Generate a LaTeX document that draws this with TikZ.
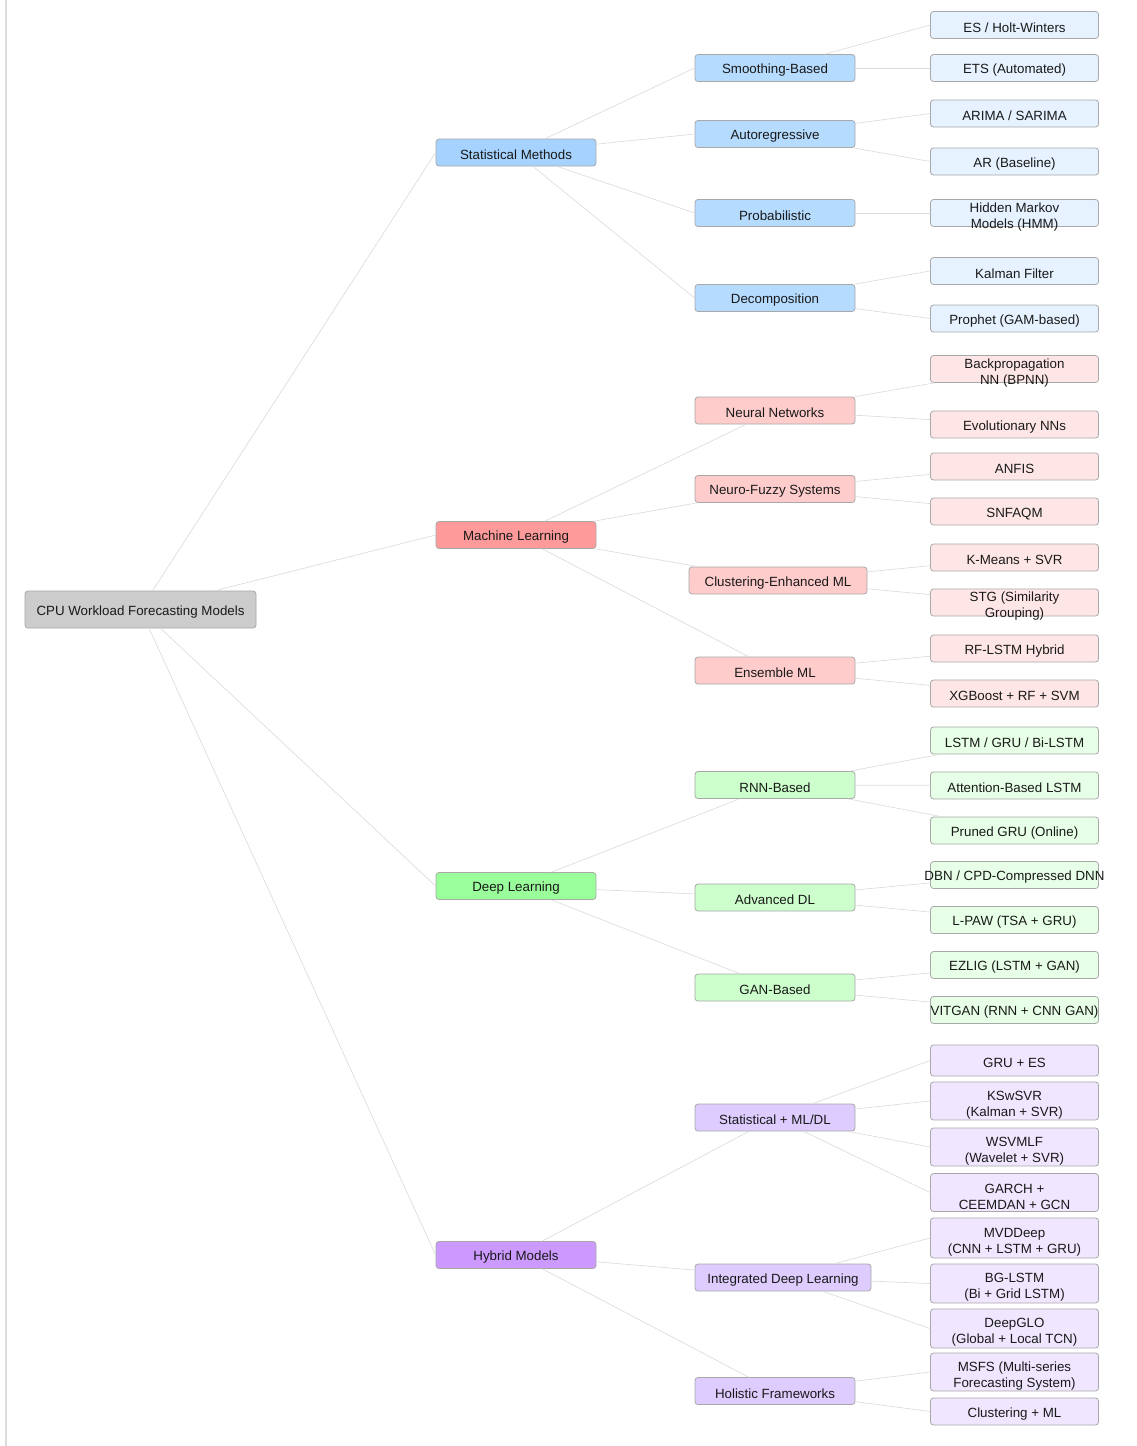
\documentclass[tikz,border=0pt]{standalone}
\usepackage{fontspec}
\setmainfont{Liberation Sans}
\usetikzlibrary{positioning}

\definecolor{boxline}{HTML}{A8A8A8}
\definecolor{linkgray}{HTML}{DCDCDC}
\definecolor{rootfill}{HTML}{CCCCCC}
\definecolor{statA}{HTML}{A6D2FF}
\definecolor{statB}{HTML}{B5DBFF}
\definecolor{statC}{HTML}{E6F2FF}
\definecolor{mlA}{HTML}{FF9A9A}
\definecolor{mlB}{HTML}{FFCCCC}
\definecolor{mlC}{HTML}{FFE6E6}
\definecolor{dlA}{HTML}{9AFF9A}
\definecolor{dlB}{HTML}{CCFFCC}
\definecolor{dlC}{HTML}{E6FFE6}
\definecolor{hybA}{HTML}{CC9AFF}
\definecolor{hybB}{HTML}{DFCCFF}
\definecolor{hybC}{HTML}{F0E6FF}

% strut for the first line of two-line labels
\newcommand{\firststrut}{\rule{0pt}{13pt}}

\begin{document}
\begin{tikzpicture}[x=0.75pt, y=-0.75pt, line cap=round, line join=round,
  txt/.style={font=\fontsize{10}{12}\selectfont, text=black!90, align=center, inner sep=0pt,
    execute at begin node={\rule{0pt}{11pt}}},
  box/.style={txt, draw=boxline, line width=0.6pt, rounded corners=2.25pt, minimum height=20.25pt},
  lvlone/.style={box, minimum width=120pt},
  lvltwo/.style={box, minimum width=120pt},
  leaf/.style={box, minimum width=126pt},
  link/.style={draw=linkgray, line width=0.5pt}]

\useasboundingbox (0,0) rectangle (1137,1446);
\draw[draw=linkgray, line width=0.8pt] (6,0) -- (6,1446);

% root
\node[box, fill=rootfill, minimum width=173.25pt, minimum height=27.75pt] (root) at (140.5,609.5) {CPU Workload Forecasting Models};

% first level
\node[lvlone, fill=statA] (stat) at (516,152.5) {Statistical Methods};
\node[lvlone, fill=mlA] (ml) at (516,535) {Machine Learning};
\node[lvlone, fill=dlA] (dl) at (516,886) {Deep Learning};
\node[lvlone, fill=hybA] (hyb) at (516,1255) {Hybrid Models};

% second level
\node[lvltwo, fill=statB] (smooth) at (775,68) {Smoothing-Based};
\node[lvltwo, fill=statB] (autoreg) at (775,134) {Autoregressive};
\node[lvltwo, fill=statB] (prob) at (775,213) {Probabilistic};
\node[lvltwo, fill=statB] (decomp) at (775,298) {Decomposition};

\node[lvltwo, fill=mlB] (nn) at (775,410.5) {Neural Networks};
\node[lvltwo, fill=mlB] (nfs) at (775,489) {Neuro-Fuzzy Systems};
\node[lvltwo, fill=mlB, minimum width=133.5pt] (clus) at (778,580.5) {Clustering-Enhanced ML};
\node[lvltwo, fill=mlB] (ens) at (775,670.5) {Ensemble ML};

\node[lvltwo, fill=dlB] (rnn) at (775,785) {RNN-Based};
\node[lvltwo, fill=dlB] (adl) at (775,897.5) {Advanced DL};
\node[lvltwo, fill=dlB] (gan) at (775,987.5) {GAN-Based};

\node[lvltwo, fill=hybB] (sml) at (775,1117.5) {Statistical + ML/DL};
\node[lvltwo, fill=hybB, minimum width=132pt] (idl) at (783,1277.5) {Integrated Deep Learning};
\node[lvltwo, fill=hybB] (holi) at (775,1391) {Holistic Frameworks};

% leaves
\node[leaf, fill=statC] (es) at (1014.5,25) {ES / Holt-Winters};
\node[leaf, fill=statC] (ets) at (1014.5,68) {ETS (Automated)};
\node[leaf, fill=statC] (arima) at (1014.5,113.5) {ARIMA / SARIMA};
\node[leaf, fill=statC] (ar) at (1014.5,161.5) {AR (Baseline)};
\node[leaf, fill=statC] (hmm) at (1014.5,213) {};
\node[txt] (hmm-t) at (hmm) {\firststrut Hidden Markov\\Models (HMM)};
\node[leaf, fill=statC] (kalman) at (1014.5,271) {Kalman Filter};
\node[leaf, fill=statC] (prophet) at (1014.5,318.5) {Prophet (GAM-based)};

\node[leaf, fill=mlC] (bpnn) at (1014.5,369) {};
\node[txt] (bpnn-t) at (bpnn) {\firststrut Backpropagation\\NN (BPNN)};
\node[leaf, fill=mlC] (evo) at (1014.5,424.5) {Evolutionary NNs};
\node[leaf, fill=mlC] (anfis) at (1014.5,466.5) {ANFIS};
\node[leaf, fill=mlC] (snfaqm) at (1014.5,511.5) {SNFAQM};
\node[leaf, fill=mlC] (kmeans) at (1014.5,557.5) {K-Means + SVR};
\node[leaf, fill=mlC] (stg) at (1014.5,602.5) {};
\node[txt] (stg-t) at (stg) {\firststrut STG (Similarity\\Grouping)};
\node[leaf, fill=mlC] (rflstm) at (1014.5,648.5) {RF-LSTM Hybrid};
\node[leaf, fill=mlC] (xgb) at (1014.5,693.5) {XGBoost + RF + SVM};

\node[leaf, fill=dlC] (lstm) at (1014.5,740.5) {LSTM / GRU / Bi-LSTM};
\node[leaf, fill=dlC] (att) at (1014.5,785.5) {Attention-Based LSTM};
\node[leaf, fill=dlC] (pgru) at (1014.5,830.5) {Pruned GRU (Online)};
\node[leaf, fill=dlC] (dbn) at (1014.5,875) {};
\node[txt] (dbn-t) at (dbn) {DBN / CPD-Compressed DNN};
\node[leaf, fill=dlC] (lpaw) at (1014.5,920) {L-PAW (TSA + GRU)};
\node[leaf, fill=dlC] (ezlig) at (1014.5,965) {EZLIG (LSTM + GAN)};
\node[leaf, fill=dlC] (vitgan) at (1014.5,1010) {};
\node[txt] (vitgan-t) at (vitgan) {VITGAN (RNN + CNN GAN)};

\node[leaf, fill=hybC, minimum height=23.25pt] (grues) at (1014.5,1060.5) {GRU + ES};
\node[leaf, fill=hybC, minimum height=28.5pt] (ksw) at (1014.5,1101) {\firststrut KSwSVR\\(Kalman + SVR)};
\node[leaf, fill=hybC, minimum height=28.5pt] (wsv) at (1014.5,1147) {\firststrut WSVMLF\\(Wavelet + SVR)};
\node[leaf, fill=hybC, minimum height=28.5pt] (garch) at (1014.5,1192.5) {\firststrut GARCH +\\CEEMDAN + GCN};
\node[leaf, fill=hybC, minimum height=30pt] (mvd) at (1014.5,1238) {\firststrut MVDDeep\\(CNN + LSTM + GRU)};
\node[leaf, fill=hybC, minimum height=29.25pt] (bglstm) at (1014.5,1283.5) {\firststrut BG-LSTM\\(Bi + Grid LSTM)};
\node[leaf, fill=hybC, minimum height=29.25pt] (deepglo) at (1014.5,1328.5) {\firststrut DeepGLO\\(Global + Local TCN)};
\node[leaf, fill=hybC, minimum height=28.5pt] (msfs) at (1014.5,1372) {\firststrut MSFS (Multi-series\\Forecasting System)};
\node[leaf, fill=hybC] (clml) at (1014.5,1411.5) {Clustering + ML};

% links
\foreach \c in {stat,ml,dl,hyb}
  \draw[link] (root) -- (\c.west);

\foreach \c in {smooth,autoreg,prob,decomp}
  \draw[link] (stat) -- (\c.west);
\foreach \p/\c in {ml/nn, ml/nfs, ml/clus, ml/ens, dl/rnn, dl/adl, dl/gan,
  hyb/sml, hyb/idl, hyb/holi}
  \draw[link] (\p) -- (\c);

\foreach \p/\c in {smooth/es, smooth/ets, autoreg/arima, autoreg/ar, prob/hmm,
  decomp/kalman, decomp/prophet, sml/grues, sml/ksw, sml/wsv, sml/garch,
  idl/mvd, idl/bglstm, idl/deepglo, holi/msfs, holi/clml}
  \draw[link] (\p) -- (\c.west);
\foreach \p/\c in {nn/bpnn, nn/evo, nfs/anfis, nfs/snfaqm, clus/kmeans, clus/stg,
  ens/rflstm, ens/xgb, rnn/lstm, rnn/att, rnn/pgru, adl/dbn, adl/lpaw,
  gan/ezlig, gan/vitgan}
  \draw[link] (\p) -- (\c);

\end{tikzpicture}
\end{document}
